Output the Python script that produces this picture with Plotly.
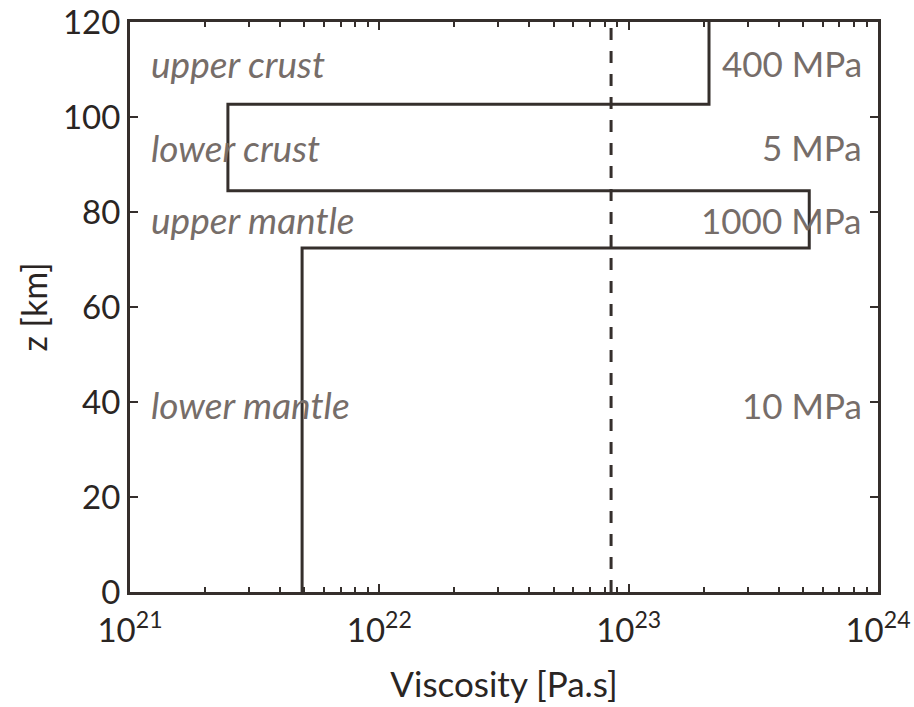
import plotly.graph_objects as go

# Layer data
layer_names = ["upper crust", "lower crust", "upper mantle", "lower mantle"]
layer_stress = ["400 MPa", "5 MPa", "1000 MPa", "10 MPa"]
layer_top = [120, 102.7, 84.5, 72.4]
layer_bottom = [102.7, 84.5, 72.4, 0]
layer_viscosity = [2.1e23, 2.47e21, 5.3e23, 4.9e21]
label_z = [111.3, 93.6, 78.4, 39.4]
reference_viscosity = 8.5e22
x_tick_exps = [21, 22, 23, 24]
y_ticks = [0, 20, 40, 60, 80, 100, 120]

line_color = "#352f2c"
text_color = "#766d69"
font_family = "Lato, 'Open Sans', sans-serif"

# Build step profile
xs, ys = [], []
for top, bot, v in zip(layer_top, layer_bottom, layer_viscosity):
    xs += [v, v]
    ys += [top, bot]

fig = go.Figure()
fig.add_trace(go.Scatter(x=xs, y=ys, mode="lines",
                         line=dict(color=line_color, width=3),
                         showlegend=False, hoverinfo="skip"))
fig.add_trace(go.Scatter(x=[reference_viscosity, reference_viscosity], y=[0, 120],
                         mode="lines",
                         line=dict(color=line_color, width=3, dash="12px,11px"),
                         showlegend=False, hoverinfo="skip"))

for name, stress, z in zip(layer_names, layer_stress, label_z):
    fig.add_annotation(x=0.026, xref="paper", y=z, yref="y", text=name,
                       showarrow=False, xanchor="left", yanchor="middle",
                       font=dict(family=font_family, size=37, color=text_color,
                                 style="italic"))
    fig.add_annotation(x=0.981, xref="paper", y=z, yref="y", text=stress,
                       showarrow=False, xanchor="right", yanchor="middle",
                       font=dict(family=font_family, size=35, color=text_color))

minor_vals = [k * 10.0 ** e for e in x_tick_exps[:-1] for k in range(2, 10)]

fig.update_layout(
    width=914, height=707,
    margin=dict(l=130, r=36, t=22, b=115),
    plot_bgcolor="white", paper_bgcolor="white",
    font=dict(family=font_family, size=33, color="#2a2523"),
    xaxis=dict(type="log", range=[21, 24], automargin=False,
               tickvals=[10.0 ** e for e in x_tick_exps],
               ticktext=[f"10<sup>{e}</sup>" for e in x_tick_exps],
               ticks="inside", ticklen=8, tickwidth=2, tickcolor=line_color,
               minor=dict(tickvals=minor_vals, ticks="inside", ticklen=5,
                          tickwidth=2, tickcolor=line_color, showgrid=False),
               showline=True, linewidth=3, linecolor=line_color, mirror="ticks",
               showgrid=False, zeroline=False, ticklabeloverflow="allow",
               title=dict(text="Viscosity [Pa.s]", standoff=25,
                          font=dict(size=35)),
               ticklabelstandoff=7),
    yaxis=dict(range=[0, 120], tickvals=y_ticks, automargin=False,
               ticks="inside", ticklen=8, tickwidth=2, tickcolor=line_color,
               showline=True, linewidth=3, linecolor=line_color, mirror="ticks",
               showgrid=False, zeroline=False, ticklabeloverflow="allow",
               title=dict(text="z [km]", standoff=6, font=dict(size=34))),
)

fig.write_html("out.html",
               config={"displayModeBar": False},
               post_script="document.body.style.margin='0';document.body.style.overflow='hidden';")
